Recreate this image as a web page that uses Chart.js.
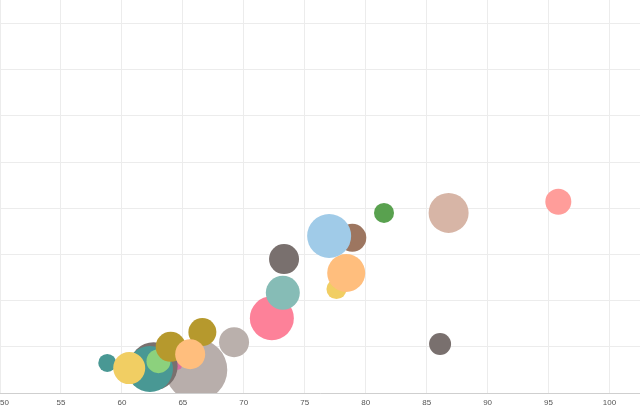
<!DOCTYPE html>
<html>
<head>
<meta charset="utf-8">
<script src="https://cdn.jsdelivr.net/npm/chart.js@4"></script>
<style>
  body { margin: 0; background: #fff; }
  #chart { display: block; }
</style>
</head>
<body>
<canvas id="chart" width="640" height="415"></canvas>
<script>
// bubble values, drawn in this order (later ones sit on top)
const xValues = [66.1, 64.5, 62.6, 62.3, 58.8, 60.6, 63.0, 64.0, 66.6, 65.6, 69.2, 72.3, 73.3, 73.2, 77.6, 78.4, 78.9, 77.0, 81.5, 86.8, 86.1, 95.8];
const yValues = [0.50, 0.63, 0.58, 0.52, 0.65, 0.54, 0.69, 1.00, 1.32, 0.84, 1.10, 1.62, 2.90, 2.17, 2.25, 2.60, 3.36, 3.40, 3.90, 3.90, 1.06, 4.14];
const bubbleSizes = [31, 6, 24, 23, 9, 16, 12, 15, 14, 15, 15, 22, 15, 17, 10, 19, 14, 22, 10, 20, 11, 13];
const xTicks = [50, 55, 60, 65, 70, 75, 80, 85, 90, 95, 100];
const xMax = 102.5;

const palette = ['#b8aeab', '#d96fa0', '#79706e', '#499894', '#499894', '#f1ce63', '#8cd17d', '#b6992d',
  '#b6992d', '#ffbe7d', '#bab0ac', '#fd8199', '#79706e', '#86bcb6', '#f1ce63', '#ffbe7d',
  '#9d7660', '#a0cbe8', '#59a14f', '#d7b5a6', '#79706e', '#ff9d9a'];

const points = xValues.map((x, i) => ({ x: x, y: yValues[i], r: bubbleSizes[i] }));

const isTick = v => xTicks.includes(v);

new Chart(document.getElementById('chart'), {
  type: 'bubble',
  data: {
    datasets: [{
      data: points,
      backgroundColor: palette,
      borderWidth: 0,
      hoverBorderWidth: 0,
      clip: 0
    }]
  },
  options: {
    responsive: false,
    animation: false,
    layout: { padding: 0, autoPadding: false },
    plugins: { legend: { display: false }, tooltip: { enabled: false } },
    scales: {
      x: {
        type: 'linear',
        min: 50,
        max: xMax,
        // blank tick at the right edge so 'inner' only pulls the first label in
        afterBuildTicks: s => { s.ticks = xTicks.concat([xMax]).map(v => ({ value: v })); },
        afterFit: s => { s.paddingLeft = 0; s.paddingRight = 0; s.height = 22; },
        ticks: {
          autoSkip: false,
          maxRotation: 0,
          align: 'inner',
          padding: 5,
          color: '#555',
          font: { family: 'Liberation Sans', size: 8 },
          callback: v => isTick(v) ? String(v) : ''
        },
        grid: {
          drawTicks: false,
          color: ctx => isTick(ctx.tick && ctx.tick.value) ? '#ececec' : 'rgba(0,0,0,0)'
        },
        border: { color: '#cfcfcf', width: 1 }
      },
      y: {
        min: 0,
        max: 8.51,
        afterBuildTicks: s => { s.ticks = s.ticks.filter(t => Number.isInteger(t.value)); },
        afterFit: s => { s.width = 0; s.paddingTop = 0; s.paddingBottom = 0; },
        ticks: { display: false, stepSize: 1 },
        grid: { drawTicks: false, color: '#ececec' },
        border: { display: false }
      }
    }
  }
});
</script>
</body>
</html>
